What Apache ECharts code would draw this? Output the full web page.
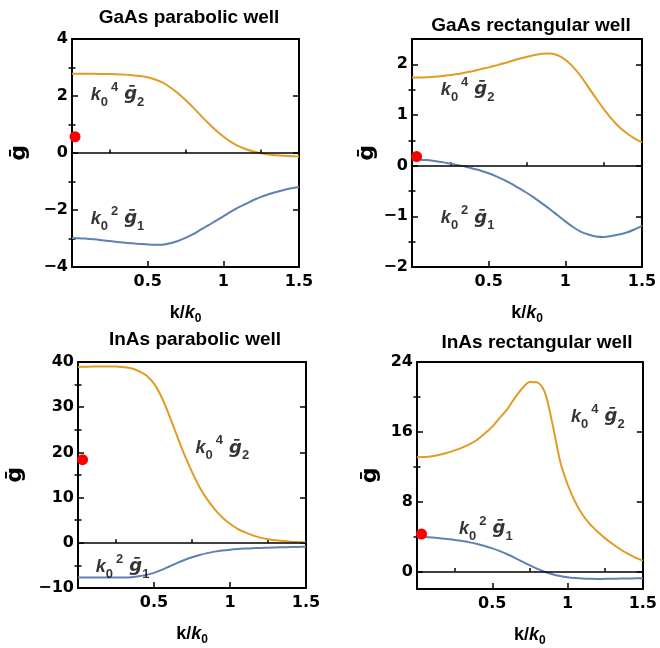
<!DOCTYPE html>
<html>
<head>
<meta charset="utf-8">
<script src="https://cdn.jsdelivr.net/npm/echarts@6/dist/echarts.min.js"></script>
<style>
html, body { margin: 0; padding: 0; background: #fff; }
#main { width: 660px; height: 648px; }
</style>
</head>
<body>
<div id="main"></div>
<script>
// k/k0 sample points shared by all curves
var kGrid = [0, 0.05, 0.1, 0.15, 0.2, 0.25, 0.3, 0.35, 0.4, 0.45, 0.5, 0.55, 0.6, 0.65, 0.7, 0.75,
             0.8, 0.85, 0.9, 0.95, 1.0, 1.05, 1.1, 1.15, 1.2, 1.25, 1.3, 1.35, 1.4, 1.45, 1.5];

// GaAs parabolic well
var gaasParG2 = [2.78, 2.78, 2.78, 2.78, 2.77, 2.77, 2.76, 2.75, 2.73, 2.70, 2.66, 2.58, 2.47, 2.30, 2.10, 1.86,
                 1.60, 1.32, 1.05, 0.80, 0.58, 0.39, 0.24, 0.13, 0.05, -0.01, -0.05, -0.08, -0.10, -0.11, -0.12];
var gaasParG1 = [-2.98, -2.99, -3.01, -3.03, -3.06, -3.09, -3.12, -3.15, -3.17, -3.19, -3.21, -3.22, -3.215, -3.17, -3.09, -2.98,
                 -2.85, -2.69, -2.54, -2.38, -2.22, -2.06, -1.91, -1.78, -1.65, -1.54, -1.45, -1.37, -1.30, -1.24, -1.19];
// GaAs rectangular well
var gaasRectG2 = [1.74, 1.74, 1.745, 1.755, 1.77, 1.79, 1.81, 1.84, 1.87, 1.905, 1.94, 1.98, 2.02, 2.065, 2.11, 2.15,
                  2.185, 2.21, 2.215, 2.18, 2.09, 1.95, 1.77, 1.55, 1.33, 1.12, 0.93, 0.77, 0.64, 0.54, 0.46];
var gaasRectG1 = [0.12, 0.118, 0.11, 0.09, 0.07, 0.04, 0.01, -0.02, -0.06, -0.10, -0.15, -0.21, -0.28, -0.36, -0.45, -0.54,
                  -0.64, -0.75, -0.86, -0.98, -1.10, -1.21, -1.30, -1.36, -1.40, -1.41, -1.39, -1.36, -1.32, -1.26, -1.19];
// InAs parabolic well
var inasParG2 = [38.9, 38.95, 39.0, 39.0, 39.0, 39.0, 38.85, 38.6, 38.0, 37.0, 35.2, 32.2, 28.2, 23.8, 19.5, 15.7,
                 12.3, 9.6, 7.4, 5.6, 4.2, 3.1, 2.3, 1.65, 1.15, 0.8, 0.55, 0.38, 0.25, 0.16, 0.1];
var inasParG1 = [-7.65, -7.67, -7.7, -7.7, -7.7, -7.7, -7.68, -7.6, -7.42, -7.1, -6.65, -6.0, -5.25, -4.5, -3.8, -3.2,
                 -2.7, -2.28, -1.95, -1.7, -1.52, -1.38, -1.28, -1.2, -1.13, -1.07, -1.02, -0.98, -0.94, -0.91, -0.88];
// InAs rectangular well
var inasRectG2 = [13.1, 13.12, 13.2, 13.38, 13.6, 13.88, 14.2, 14.6, 15.1, 15.8, 16.6, 17.6, 18.6, 19.9, 21.0, 21.7,
                  21.65, 20.5, 16.9, 12.7, 10.0, 8.0, 6.5, 5.4, 4.55, 3.8, 3.15, 2.55, 2.05, 1.6, 1.25];
var inasRectG1 = [3.97, 3.95, 3.9, 3.82, 3.72, 3.62, 3.5, 3.34, 3.15, 2.92, 2.65, 2.34, 1.98, 1.57, 1.13, 0.7,
                  0.3, -0.04, -0.32, -0.52, -0.66, -0.75, -0.81, -0.84, -0.85, -0.84, -0.83, -0.81, -0.8, -0.78, -0.77];

// red points at k -> 0
var dotK = [0.02, 0.03, 0.03, 0.03];
var dotG = [0.57, 0.18, 18.4, 4.3];

var titles = ['GaAs parabolic well', 'GaAs rectangular well', 'InAs parabolic well', 'InAs rectangular well'];
var g2Series = [gaasParG2, gaasRectG2, inasParG2, inasRectG2];
var g1Series = [gaasParG1, gaasRectG1, inasParG1, inasRectG1];

// axis ranges and tick values
var xMajor = [0.5, 1, 1.5];
var xMinor = [0.25, 0.75, 1.25];
var yMin = [-4, -2, -10, -2];
var yMax = [4, 2.5, 40, 24];
var yMajor = [[-4, -2, 0, 2, 4], [-2, -1, 0, 1, 2], [-10, 0, 10, 20, 30, 40], [0, 8, 16, 24]];
var yMinor = [[-3, -1, 1, 3], [-1.5, -0.5, 0.5, 1.5], [-5, 5, 15, 25, 35], [4, 12, 20]];

// where the curve names sit (data coordinates of their left/middle point)
var g2LabelAt = [[0.12, 2.05], [0.185, 1.5], [0.77, 20.9], [1.02, 17.75]];
var g1LabelAt = [[0.12, -2.3], [0.185, -1.04], [0.114, -5.3], [0.276, 4.9]];

var myChart = echarts.init(document.getElementById('main'));

var grids = [
    {left: 72, top: 39, width: 227, height: 228},
    {left: 412, top: 39, width: 230, height: 228},
    {left: 78, top: 362, width: 228, height: 226},
    {left: 417, top: 362, width: 232, height: 229}
];
var titlePos = [[184, 3], [526, 11], [190, 325], [532, 328]];
var yNameGap = [42, 34, 52, 36];

var orange = '#E19C24';
var blue = '#5E81B5';
var tickFont = {fontFamily: 'DejaVu Sans', fontWeight: 'bold', fontSize: 16, color: '#000'};

function zip(ks, vs) {
    var out = [];
    for (var i = 0; i < ks.length; i++) out.push([ks[i], vs[i]]);
    return out;
}

var labelRich = {
    k: {fontFamily: 'Liberation Sans', fontWeight: 'bold', fontStyle: 'italic', fontSize: 18, color: '#000', lineHeight: 28},
    sub: {fontFamily: 'Liberation Sans', fontWeight: 'bold', fontSize: 13, color: '#000', lineHeight: 17, verticalAlign: 'bottom'},
    sup: {fontFamily: 'Liberation Sans', fontWeight: 'bold', fontSize: 13, color: '#000', lineHeight: 17, verticalAlign: 'top', padding: [0, 0, 0, 3]},
    sp: {fontSize: 10, lineHeight: 28, width: 6},
    g: {fontFamily: 'DejaVu Sans', fontWeight: 'bold', fontStyle: 'italic', fontSize: 18, color: '#000', lineHeight: 28}
};

var option = {
    animation: false,
    backgroundColor: '#fff',
    title: [],
    grid: grids,
    xAxis: [],
    yAxis: [],
    series: []
};

for (var p = 0; p < 4; p++) {
    option.title.push({
        text: titles[p],
        left: titlePos[p][0],
        top: titlePos[p][1],
        textAlign: 'center',
        textStyle: {fontFamily: 'Liberation Sans', fontWeight: 'bold', fontSize: 19, color: '#000'}
    });

    // bottom axis with labels, bottom minor ticks, plain top frame
    option.xAxis.push({
        type: 'value', gridIndex: p, position: 'bottom', min: 0, max: 1.5,
        axisLine: {onZero: false, lineStyle: {color: '#000', width: 2}},
        axisTick: {inside: true, length: 6, customValues: xMajor, lineStyle: {color: '#000', width: 1.5}},
        axisLabel: Object.assign({customValues: xMajor, margin: 7}, tickFont),
        splitLine: {show: false},
        name: '{a|k/}{b|k}{c|0}',
        nameLocation: 'middle',
        nameGap: 34,
        nameTextStyle: {
            rich: {
                a: {fontFamily: 'Liberation Sans', fontWeight: 'bold', fontSize: 18, color: '#000', lineHeight: 24},
                b: {fontFamily: 'Liberation Sans', fontWeight: 'bold', fontStyle: 'italic', fontSize: 18, color: '#000', lineHeight: 24},
                c: {fontFamily: 'Liberation Sans', fontWeight: 'bold', fontSize: 12, color: '#000', lineHeight: 16, verticalAlign: 'bottom'}
            }
        }
    });
    option.xAxis.push({
        type: 'value', gridIndex: p, position: 'bottom', min: 0, max: 1.5,
        axisLine: {show: false},
        axisTick: {inside: true, length: 3.5, customValues: xMinor, lineStyle: {color: '#000', width: 1.5}},
        axisLabel: {show: false},
        splitLine: {show: false}
    });
    option.xAxis.push({
        type: 'value', gridIndex: p, position: 'top', min: 0, max: 1.5,
        axisLine: {onZero: false, lineStyle: {color: '#000', width: 2}},
        axisTick: {show: false},
        axisLabel: {show: false},
        splitLine: {show: false}
    });

    // left axis with labels + minor, right frame with ticks + minor
    option.yAxis.push({
        type: 'value', gridIndex: p, position: 'left', min: yMin[p], max: yMax[p],
        axisLine: {onZero: false, lineStyle: {color: '#000', width: 2}},
        axisTick: {inside: true, length: 6, customValues: yMajor[p], lineStyle: {color: '#000', width: 1.5}},
        axisLabel: Object.assign({
            customValues: yMajor[p], margin: 4,
            formatter: function (v) { return String(v).replace('-', '\u2212'); }
        }, tickFont),
        splitLine: {show: false},
        name: '\u1E21',
        nameLocation: 'middle',
        nameRotate: 90,
        nameGap: yNameGap[p],
        nameTextStyle: {fontFamily: 'DejaVu Sans', fontWeight: 'bold', fontSize: 22, color: '#000'}
    });
    option.yAxis.push({
        type: 'value', gridIndex: p, position: 'left', min: yMin[p], max: yMax[p],
        axisLine: {show: false},
        axisTick: {inside: true, length: 3.5, customValues: yMinor[p], lineStyle: {color: '#000', width: 1.5}},
        axisLabel: {show: false},
        splitLine: {show: false}
    });
    option.yAxis.push({
        type: 'value', gridIndex: p, position: 'right', min: yMin[p], max: yMax[p],
        axisLine: {onZero: false, lineStyle: {color: '#000', width: 2}},
        axisTick: {inside: true, length: 6, customValues: yMajor[p], lineStyle: {color: '#000', width: 1.5}},
        axisLabel: {show: false},
        splitLine: {show: false}
    });
    option.yAxis.push({
        type: 'value', gridIndex: p, position: 'right', min: yMin[p], max: yMax[p],
        axisLine: {show: false},
        axisTick: {inside: true, length: 3.5, customValues: yMinor[p], lineStyle: {color: '#000', width: 1.5}},
        axisLabel: {show: false},
        splitLine: {show: false}
    });

    var xi = p * 3, yi = p * 4;

    option.series.push({
        name: 'g1', type: 'line', xAxisIndex: xi, yAxisIndex: yi,
        data: zip(kGrid, g1Series[p]),
        smooth: 0.3, showSymbol: false,
        lineStyle: {color: blue, width: 2},
        itemStyle: {color: blue},
        z: 3
    });
    option.series.push({
        name: 'g2', type: 'line', xAxisIndex: xi, yAxisIndex: yi,
        data: zip(kGrid, g2Series[p]),
        smooth: 0.3, showSymbol: false,
        lineStyle: {color: orange, width: 2},
        itemStyle: {color: orange},
        z: 3,
        markLine: {
            silent: true, symbol: 'none', label: {show: false},
            lineStyle: {color: '#000', width: 1.6, type: 'solid'},
            data: [{yAxis: 0}],
            z: 4
        }
    });
    option.series.push({
        type: 'scatter', xAxisIndex: xi, yAxisIndex: yi,
        data: [[dotK[p], dotG[p]]],
        symbolSize: 11, clip: false,
        itemStyle: {color: '#FF0000', opacity: 1},
        z: 6
    });
    // curve names
    option.series.push({
        type: 'scatter', xAxisIndex: xi, yAxisIndex: yi,
        symbolSize: 1, itemStyle: {color: 'rgba(0,0,0,0)'},
        silent: true,
        data: [
            {value: g2LabelAt[p], label: {formatter: '{k|k}{sub|0}{sup|4}{sp| }{g|\u1E21}{sub|2}'}},
            {value: g1LabelAt[p], label: {formatter: '{k|k}{sub|0}{sup|2}{sp| }{g|\u1E21}{sub|1}'}}
        ],
        label: {show: true, position: 'right', distance: 0, rich: labelRich},
        z: 7
    });
}

myChart.setOption(option);
</script>
</body>
</html>
